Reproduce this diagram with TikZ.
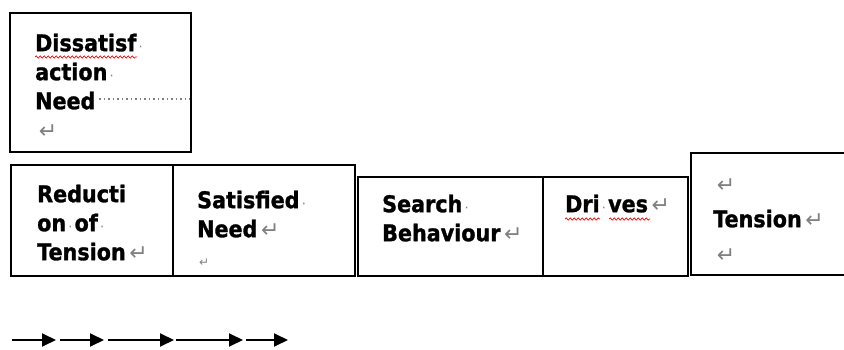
\documentclass[tikz,border=0pt]{standalone}
\usepackage{fontspec}
\setmainfont{DejaVu Sans}
\newfontfamily\cellfont{DejaVu Sans}[FakeStretch=0.9, FakeBold=1.2]
\newfontfamily\markfont{DejaVu Sans}
\usetikzlibrary{arrows.meta, decorations.pathmorphing}
\definecolor{markgray}{RGB}{128,128,128}
\newcommand{\retmark}{{\markfont\mdseries\fontsize{22}{22}\selectfont\color{markgray}\,↵}}
\newcommand{\tinymark}{{\markfont\mdseries\fontsize{12}{12}\selectfont\color{markgray}\,↵}}
\newcommand{\spmark}{{\markfont\mdseries\fontsize{13}{13}\selectfont\color{markgray}\,·\,}}

\begin{document}
\begin{tikzpicture}[x=1pt, y=-1pt, >=Stealth,
    box/.style={draw, line width=1.5pt, rectangle, inner sep=0pt, outer sep=0pt, anchor=north west},
    cell/.style={font=\cellfont\bfseries\fontsize{23}{29}\selectfont, align=left, inner sep=0pt, anchor=north west},
    flow/.style={line width=2pt, -{Triangle[length=14pt, width=13pt]}},
    squiggle/.style={red, line width=0.7pt, decorate, decoration={snake, amplitude=1.1pt, segment length=4pt}},
    leader/.style={markgray, line width=1.8pt, dash pattern=on 1.6pt off 2.9pt}]
  \useasboundingbox (0,0) rectangle (844,350);
  \clip (0,0) rectangle (844,350);

  % table cells
  \node[box, minimum width=181pt, minimum height=139pt] (diss) at (10,13) {};
  \node[box, minimum width=162pt, minimum height=111pt] (reduct) at (11,165) {};
  \node[box, minimum width=182pt, minimum height=111pt] (satis) at (173,165) {};
  \node[box, minimum width=185pt, minimum height=99pt] (search) at (358,177) {};
  \node[box, minimum width=145pt, minimum height=99pt] (drives) at (543,177) {};
  \node[box, minimum width=170pt, minimum height=122pt] (tension) at (691,153) {};

  % cell texts
  \node[cell] (dissTxt) at ([shift={(25,17.7)}]diss.north west)
    {\strut Dissatisf\spmark\\action\spmark\\Need\\\retmark};
  \node[cell] (reductTxt) at ([shift={(26,16.7)}]reduct.north west)
    {\strut Reducti\\on\spmark of\spmark\\Tension\retmark};
  \node[cell] (satisTxt) at ([shift={(24,22.7)}]satis.north west)
    {\strut Satisfied\spmark\\Need\retmark\\\tinymark};
  \node[cell] (searchTxt) at ([shift={(24,14.7)}]search.north west)
    {\strut Search\spmark\\Behaviour\retmark};
  \node[cell] (drivesTxt) at ([shift={(22,14.7)}]drives.north west)
    {\strut Dri\spmark ves\retmark};
  \node[cell, font=\cellfont\bfseries\fontsize{23}{35}\selectfont] (tensionTxt) at ([shift={(22,14.5)}]tension.north west)
    {\strut\retmark\\Tension\retmark\\\retmark};

  % editor marks
  \draw[leader] (99,99) -- (190,99);
  \draw[squiggle] (35,57) -- (137,57);
  \draw[squiggle] (565,219) -- (600,219);
  \draw[squiggle] (609,219) -- (650,219);

  % arrows
  \foreach \i/\s/\e in {1/12/56, 2/60/104, 3/108/174, 4/176/243, 5/246/288}{
    \coordinate (s\i) at (\s,340);
    \coordinate (e\i) at (\e,340);
    \draw[flow] (s\i) -- (e\i);
  }
\end{tikzpicture}
\end{document}
